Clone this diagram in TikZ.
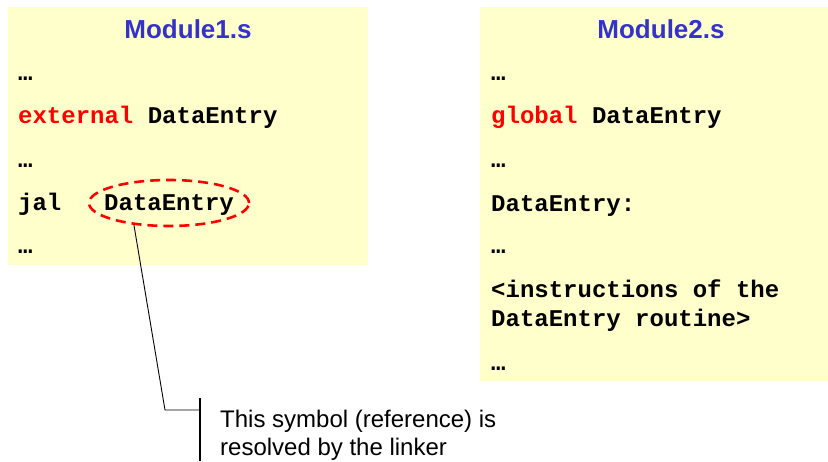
\documentclass[tikz,border=0pt]{standalone}
\usepackage{fontspec}
\setmainfont{Liberation Sans}
\newfontfamily\codefont{Liberation Mono}
\usetikzlibrary{shapes.geometric}
\definecolor{bgyellow}{HTML}{FFFFCC}
\definecolor{titleblue}{HTML}{3333CC}
\definecolor{kwred}{HTML}{FF0000}
\tikzset{
  panel/.style={fill=bgyellow, draw=none, anchor=north west, inner sep=0},
  modtitle/.style={font=\fontsize{26}{30}\selectfont\bfseries, text=titleblue, anchor=base, inner sep=0},
  code/.style={font=\codefont\fontsize{24}{29}\selectfont\bfseries, anchor=base west, inner sep=0},
  kw/.style={},
  callout/.style={font=\fontsize{24}{28}\selectfont, anchor=base west, inner sep=0},
  markell/.style={ellipse, draw=kwred, line width=2.6pt, dash pattern=on 10pt off 6pt, minimum width=160pt, minimum height=46pt, inner sep=0},
  leader/.style={draw=black, line width=0.9pt},
  accentbar/.style={draw=black, line width=1.4pt}
}
\begin{document}
\begin{tikzpicture}[x=1pt,y=-1pt]
\useasboundingbox (0,0) rectangle (828,461);
% panels
\node[panel, minimum width=360pt, minimum height=258pt] (p1) at (8,7) {};
\node[panel, minimum width=348pt, minimum height=374pt] (p2) at (480,7) {};
% titles
\node[modtitle] (t1) at (188,38) {Module1.s};
\node[modtitle] (t2) at (661,38) {Module2.s};
% module 1 code
\node[code] (a1) at (18,80) {…};
\node[code] (a2) at (18,123) {\textcolor{kwred}{external} DataEntry};
\node[code] (a3) at (18,167) {…};
\node[code] (a4) at (18,210) {jal};
\node[code] (a4b) at (104,210) {DataEntry};
\node[code] (a5) at (18,253) {…};
% module 2 code
\node[code] (b1) at (491,80) {…};
\node[code] (b2) at (491,123) {\textcolor{kwred}{global} DataEntry};
\node[code] (b3) at (491,167) {…};
\node[code] (b4) at (491,211) {DataEntry:};
\node[code] (b5) at (491,253) {…};
\node[code] (b6) at (491,297) {<instructions of the};
\node[code] (b7) at (491,326) {DataEntry routine>};
\node[code] (b8) at (491,370) {…};
% dashed ellipse
\node[markell] (ell) at (169,203) {};
% callout
\coordinate (bend) at (165,410);
\coordinate (barmid) at (200,410);
\coordinate (barT) at (200,398);
\coordinate (barB) at (200,461);
\draw[leader] (ell.212) -- (bend) -- (barmid);
\draw[accentbar] (barT) -- (barB);
\node[callout] (c1) at (220,427) {This symbol (reference) is};
\node[callout] (c2) at (220,455) {resolved by the linker};
\end{tikzpicture}
\end{document}
